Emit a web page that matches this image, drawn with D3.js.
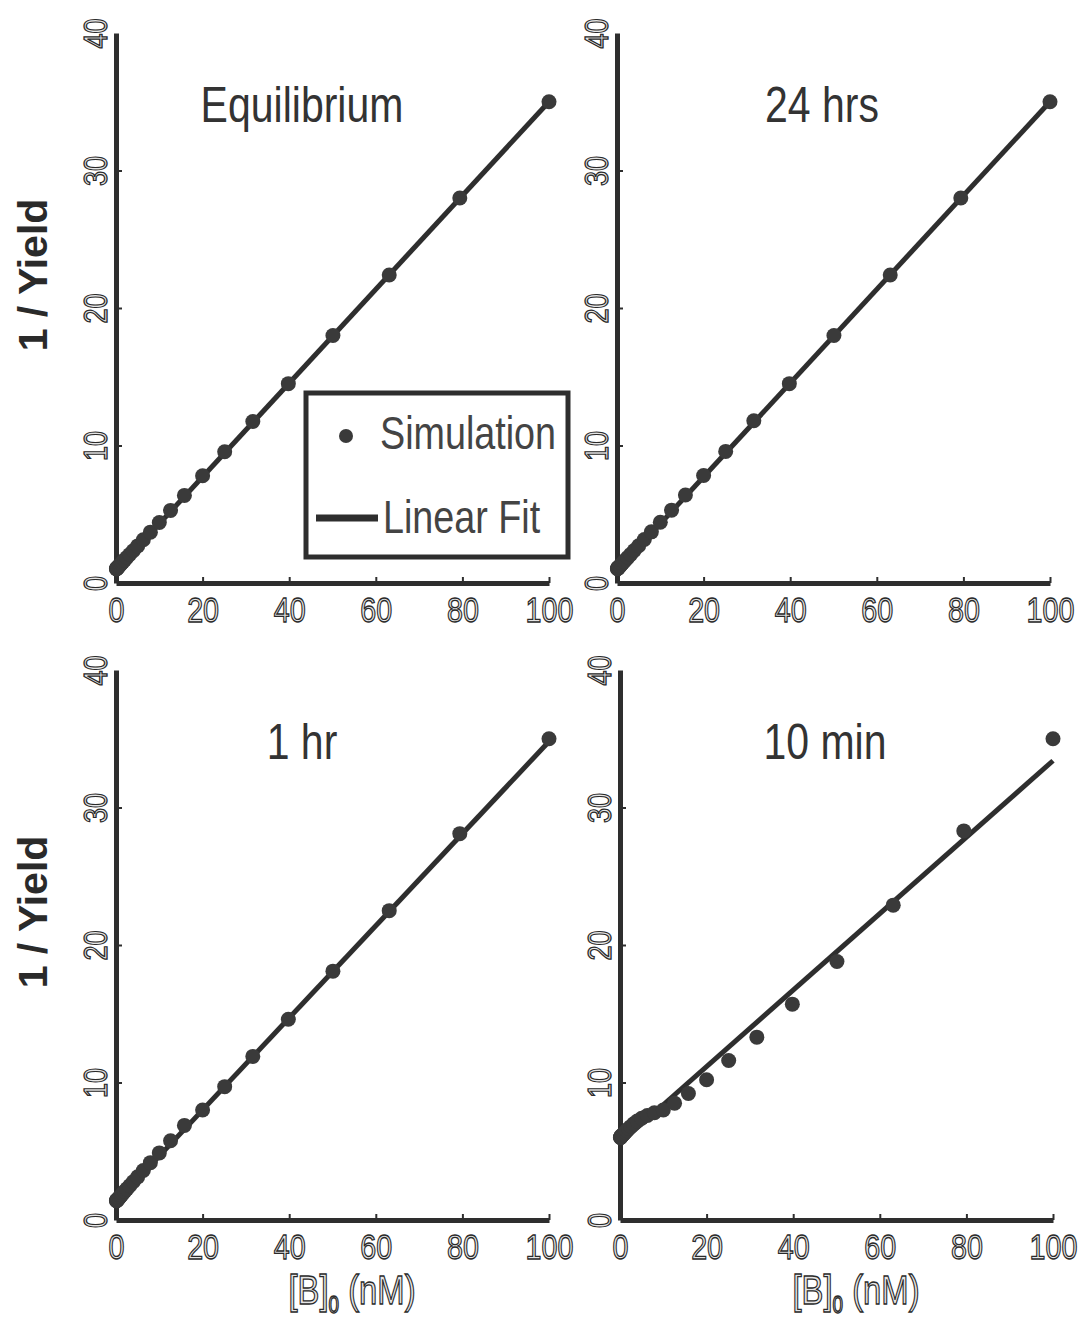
<!DOCTYPE html>
<html>
<head>
<meta charset="utf-8">
<script src="https://cdn.jsdelivr.net/npm/d3@7"></script>
<style>
    body { margin: 0; background: #fff; }
    svg { display: block; }
    .narrow { font-family: "Liberation Sans", Arial, sans-serif; }
</style>
</head>
<body>
<div id="chart"></div>
<script>
// [B]0 concentrations (nM) used for the simulation points
const concentrations = [0.1, 0.13, 0.16, 0.2, 0.25, 0.32, 0.4, 0.5, 0.63, 0.79, 1, 1.26, 1.58, 2, 2.51,
    3.16, 3.98, 5.01, 6.31, 7.94, 10, 12.6, 15.8, 20, 25.1, 31.6, 39.8, 50.1, 63.1, 79.4, 100]

// 1 / Yield
const equilibriumY = [1.03, 1.04, 1.05, 1.07, 1.08, 1.11, 1.14, 1.17, 1.21, 1.27, 1.34, 1.43, 1.54, 1.68, 1.85,
    2.07, 2.35, 2.7, 3.15, 3.7, 4.4, 5.28, 6.37, 7.8, 9.55, 11.75, 14.5, 18.0, 22.4, 28.0, 35.0]
const hrs24Y = [1.04, 1.05, 1.06, 1.08, 1.09, 1.12, 1.15, 1.18, 1.22, 1.28, 1.35, 1.44, 1.55, 1.69, 1.86,
    2.08, 2.36, 2.71, 3.16, 3.72, 4.42, 5.3, 6.4, 7.82, 9.57, 11.8, 14.5, 18.0, 22.4, 28.0, 35.0]
const hr1Y = [1.4, 1.41, 1.42, 1.43, 1.45, 1.47, 1.5, 1.54, 1.58, 1.64, 1.72, 1.81, 1.93, 2.08, 2.26,
    2.49, 2.78, 3.14, 3.6, 4.17, 4.88, 5.76, 6.88, 8.0, 9.7, 11.9, 14.6, 18.1, 22.5, 28.1, 35.0]
const min10Y = [6.0, 6.0, 6.0, 6.05, 6.07, 6.1, 6.12, 6.15, 6.2, 6.25, 6.3, 6.4, 6.5, 6.65, 6.8,
    7.0, 7.2, 7.4, 7.6, 7.8, 8.0, 8.5, 9.2, 10.2, 11.6, 13.3, 15.7, 18.8, 22.9, 28.3, 35.0]

// linear fit end points
const fitX = [0, 100]
const equilibriumFit = [0.9, 35.0]
const hrs24Fit = [0.9, 35.0]
const hr1Fit = [1.3, 34.8]
const min10Fit = [5.6, 33.4]

const xTicks = [0, 20, 40, 60, 80, 100]
const yTicks = [0, 10, 20, 30, 40]
const panelTitles = ['Equilibrium', '24 hrs', '1 hr', '10 min']
const legendLabels = ['Simulation', 'Linear Fit']

const WIDTH = 1091
const HEIGHT = 1330
const INK = '#2e2e2e'
const SQUEEZE = 'scale(0.82,1)'

const panels = [
    { title: panelTitles[0], ys: equilibriumY, fit: equilibriumFit, left: 116, top: 33, legend: true, yLabel: true, xLabel: false },
    { title: panelTitles[1], ys: hrs24Y, fit: hrs24Fit, left: 617, top: 33, legend: false, yLabel: false, xLabel: false },
    { title: panelTitles[2], ys: hr1Y, fit: hr1Fit, left: 116, top: 670, legend: false, yLabel: true, xLabel: true },
    { title: panelTitles[3], ys: min10Y, fit: min10Fit, left: 620, top: 670, legend: false, yLabel: false, xLabel: true },
]
const PW = 433
const PH = 550

const svg = d3.select('#chart').append('svg')
    .attr('width', WIDTH)
    .attr('height', HEIGHT)

// scanned-looking outlined text
function hollow(sel, size) {
    sel.attr('class', 'narrow')
        .attr('font-size', size)
        .attr('fill', '#e6e6e6')
        .attr('stroke', '#2a2a2a')
        .attr('stroke-width', 1.3)
}

panels.forEach((p) => {
    const g = svg.append('g').attr('transform', `translate(${p.left},${p.top})`)

    const x = d3.scaleLinear().domain([0, 100]).range([0, PW])
    const y = d3.scaleLinear().domain([0, 40]).range([PH, 0])

    // x axis
    const xAxis = g.append('g')
        .attr('transform', `translate(0,${PH})`)
        .call(d3.axisBottom(x).tickValues(xTicks).tickSizeInner(-6).tickSizeOuter(0).tickPadding(14))
    xAxis.select('.domain').attr('stroke', INK).attr('stroke-width', 5)
    xAxis.selectAll('.tick line').attr('stroke', INK).attr('stroke-width', 2)
    xAxis.selectAll('.tick text').attr('transform', SQUEEZE).call(hollow, 35)

    // y axis with rotated labels
    const yAxis = g.append('g')
        .call(d3.axisLeft(y).tickValues(yTicks).tickSizeInner(-6).tickSizeOuter(0))
    yAxis.select('.domain').attr('stroke', INK).attr('stroke-width', 5)
    yAxis.selectAll('.tick line').attr('stroke', INK).attr('stroke-width', 2)
    yAxis.selectAll('.tick text')
        .attr('x', null)
        .attr('dy', null)
        .attr('text-anchor', 'middle')
        .attr('transform', `translate(-9,0) rotate(-90) ${SQUEEZE}`)
        .call(hollow, 33)
    yAxis.selectAll('.tick').filter((d) => d === 0 || d === 40).select('line').remove()
    xAxis.selectAll('.tick').filter((d) => d === 0).select('line').remove()

    // fit line
    const line = d3.line().x((d) => x(d[0])).y((d) => y(d[1]))
    g.append('path')
        .datum(fitX.map((v, i) => [v, p.fit[i]]))
        .attr('d', line)
        .attr('fill', 'none')
        .attr('stroke', INK)
        .attr('stroke-width', 5)

    // simulation points
    g.selectAll('circle.sim')
        .data(concentrations.map((v, i) => [v, p.ys[i]]))
        .join('circle')
        .attr('class', 'sim')
        .attr('cx', (d) => x(d[0]))
        .attr('cy', (d) => y(d[1]))
        .attr('r', 7.5)
        .attr('fill', '#3a3a3a')

    // title
    g.append('text')
        .attr('class', 'narrow')
        .attr('transform', `translate(${p.left < 300 ? 186 : 205},89) ${SQUEEZE}`)
        .attr('text-anchor', 'middle')
        .attr('font-size', 50)
        .attr('fill', '#333')
        .text(p.title)

    if (p.yLabel) {
        svg.append('text')
            .attr('transform', `translate(47,${p.top + 242}) rotate(-90)`)
            .attr('text-anchor', 'middle')
            .attr('font-family', '"Liberation Sans", Arial, sans-serif')
            .attr('font-weight', 'bold')
            .attr('font-size', 41)
            .attr('fill', '#2a2a2a')
            .text('1 / Yield')
    }

    if (p.xLabel) {
        const t = svg.append('text')
            .attr('transform', `translate(${p.left + 236},${p.top + PH + 84}) ${SQUEEZE}`)
            .attr('text-anchor', 'middle')
            .call(hollow, 40)
        t.append('tspan').text('[B]')
        t.append('tspan').attr('font-size', 23).attr('dy', 9).text('0')
        t.append('tspan').attr('dy', -9).text(' (nM)')
    }

    if (p.legend) {
        const lg = svg.append('g').attr('transform', 'translate(306,393)')
        lg.append('rect')
            .attr('width', 262)
            .attr('height', 164)
            .attr('fill', '#fff')
            .attr('stroke', INK)
            .attr('stroke-width', 5)
        lg.append('circle')
            .attr('cx', 40)
            .attr('cy', 43)
            .attr('r', 7)
            .attr('fill', '#3a3a3a')
        lg.append('line')
            .attr('x1', 10).attr('x2', 72)
            .attr('y1', 125).attr('y2', 125)
            .attr('stroke', INK)
            .attr('stroke-width', 7)
        lg.selectAll('text.leg')
            .data(legendLabels)
            .join('text')
            .attr('class', 'narrow leg')
            .attr('transform', (d, i) => `translate(${i === 0 ? 74 : 77},${i === 0 ? 56 : 140}) ${SQUEEZE}`)
            .attr('font-size', 46)
            .attr('fill', '#444')
            .text((d) => d)
    }
})
</script>
</body>
</html>
